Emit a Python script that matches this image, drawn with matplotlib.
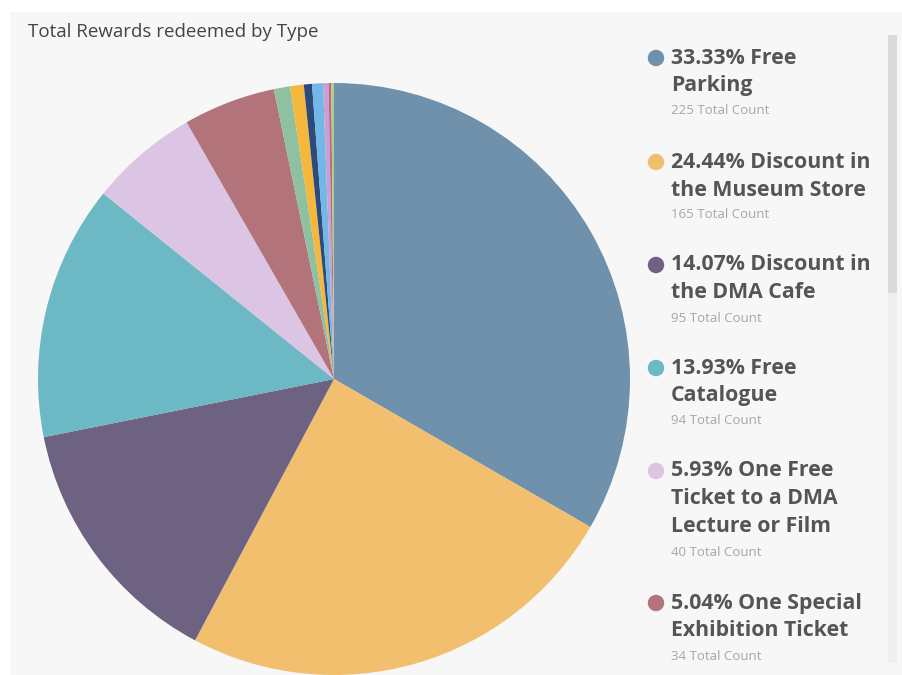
import matplotlib.pyplot as plt
from matplotlib.patches import Rectangle

# data
counts = [225, 165, 95, 94, 40, 34, 6, 5, 3, 4, 2, 1, 1]
colors = ["#6f91ab", "#f2bf6e", "#6e6283", "#6cb8c4", "#dcc4e4", "#b2737b",
          "#8fc0a0", "#f5b83d", "#2e4a7a", "#6fb8e8", "#c8a0d8", "#c0687a", "#a8d08c"]
legend_lines = [["33.33% Free", "Parking"],
                ["24.44% Discount in", "the Museum Store"],
                ["14.07% Discount in", "the DMA Cafe"],
                ["13.93% Free", "Catalogue"],
                ["5.93% One Free", "Ticket to a DMA", "Lecture or Film"],
                ["5.04% One Special", "Exhibition Ticket"]]
legend_counts = [225, 165, 95, 94, 40, 34]

W, H = 903, 675
fig = plt.figure(figsize=(W / 100, H / 100), dpi=100)
fig.patch.set_facecolor("white")
ax = fig.add_axes([0, 0, 1, 1])

# panel background
panel = Rectangle((10, 0), W - 10, H - 12, facecolor="#f7f7f7", edgecolor="none", zorder=0)
ax.add_patch(panel)

# pie (y measured from bottom)
wedges, _ = ax.pie(counts, colors=colors, startangle=90, counterclock=False,
                   center=(334, H - 379), radius=296,
                   wedgeprops=dict(linewidth=0), frame=True)
for w in wedges:
    w.set_zorder(2)
    w.set_clip_path(panel)
ax.set_xlim(0, W)
ax.set_ylim(0, H)
ax.set_aspect("auto")
ax.axis("off")

ax.text(28, H - 32, "Total Rewards redeemed by Type", fontsize=13.5, color="#444444",
        family="Open Sans", va="center", ha="left")

# legend
starts = [58, 162, 265, 368, 471, 603]
for i, lines in enumerate(legend_lines):
    y0 = starts[i]
    ax.scatter([656], [H - y0], s=140, color=colors[i], zorder=3, edgecolors="none")
    for j, t in enumerate(lines):
        ax.text(671, H - (y0 + 28 * j), t, fontsize=15.3, fontweight="bold",
                color="#555555", family="Open Sans", va="center", ha="left")
    ax.text(671, H - (y0 + 28 * (len(lines) - 1) + 25), f"{legend_counts[i]} Total Count",
            fontsize=9.5, color="#a6a6a6", family="Open Sans", va="center", ha="left")

# scrollbar
ax.add_patch(Rectangle((888, H - 663), 9, 628, facecolor="#efefef", edgecolor="none", zorder=1))
ax.add_patch(Rectangle((888, H - 293), 9, 258, facecolor="#dadada", edgecolor="none", zorder=1))

fig.savefig("out.png", dpi=100)
